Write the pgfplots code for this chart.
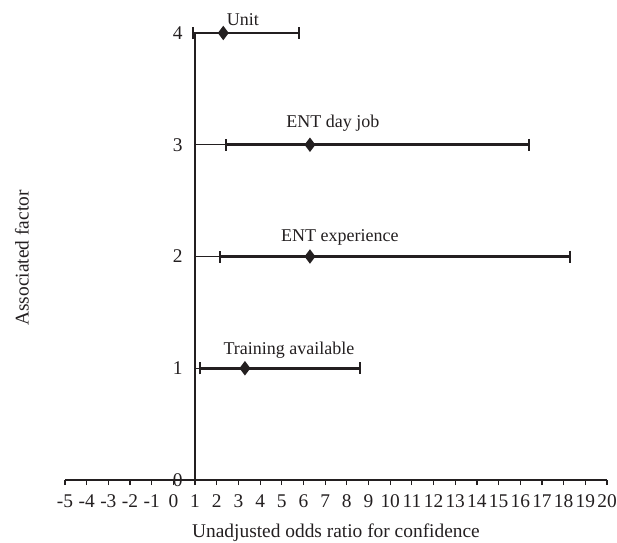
\documentclass[border=0pt]{standalone}
\usepackage{pgfplots}
\pgfplotsset{compat=1.18}
\usepackage{fontspec}
\setmainfont{Liberation Serif}
\definecolor{ink}{HTML}{231F20}
\begin{document}
\fontsize{9.7pt}{11.6pt}\selectfont
\begin{tikzpicture}
\begin{axis}[
  at={(0,0)}, anchor=south west,
  scale only axis,
  width=271pt, height=223.5pt,
  xmin=-5, xmax=20, ymin=0, ymax=4,
  axis x line=bottom, axis y line=none,
  axis line style={ink, line width=0.6pt, -},
  xtick={-5,-4,...,20},
  xticklabels={-5,-4,-3,-2,-1,0,1,2,3,4,5,6,7,8,9,10,11,12,13,14,15,16,17,18,19,20},
  xtick style={ink, line width=0.6pt},
  tick align=outside, major tick length=2.5pt,
  xticklabel style={ink, inner sep=1pt, yshift=-3.5pt},
  clip=false,
]
\addplot[ink, line width=1pt, only marks, mark=diamond*, mark size=2.8pt,
  error bars/.cd, x dir=both, x explicit,
  error bar style={line width=1.3pt, ink},
  error mark options={rotate=90, mark size=3pt, line width=1.3pt, ink}]
  table[x=x, y=y, x error minus expr=\thisrow{x}-\thisrow{lo}, x error plus expr=\thisrow{hi}-\thisrow{x}] {
x    y  lo    hi
2.30 4  0.90  5.79
6.30 3  2.43  16.40
6.30 2  2.15  18.29
3.30 1  1.23  8.61
};
\draw[ink, line width=0.6pt] (axis cs:1,0) -- (axis cs:1,4);
\draw[ink, line width=0.6pt] (axis cs:1,1) -- ++(-2.5pt,0);
\draw[ink, line width=0.6pt] (axis cs:1,2) -- ++(-2.5pt,0);
\draw[ink, line width=0.6pt] (axis cs:1,3) -- ++(-2.5pt,0);
\draw[ink, line width=0.6pt] (axis cs:1,4) -- ++(-2.5pt,0);
\node[ink, anchor=east, inner sep=0pt, xshift=-6pt] at (axis cs:1,0) {0};
\node[ink, anchor=east, inner sep=0pt, xshift=-6pt] at (axis cs:1,1) {1};
\node[ink, anchor=east, inner sep=0pt, xshift=-6pt] at (axis cs:1,2) {2};
\node[ink, anchor=east, inner sep=0pt, xshift=-6pt] at (axis cs:1,3) {3};
\node[ink, anchor=east, inner sep=0pt, xshift=-6pt] at (axis cs:1,4) {4};
\node[ink, font=\fontsize{9pt}{11pt}\selectfont] at (axis cs:3.21,4.12) {Unit};
\node[ink, font=\fontsize{9pt}{11pt}\selectfont] at (axis cs:7.36,3.19) {ENT day job};
\node[ink, font=\fontsize{9pt}{11pt}\selectfont] at (axis cs:7.68,2.17) {ENT experience};
\node[ink, font=\fontsize{9pt}{11pt}\selectfont] at (axis cs:5.33,1.16) {Training available};
\end{axis}
\node[ink] at (135.5pt,-26.5pt) {Unadjusted odds ratio for confidence};
\node[ink, rotate=90] at (-21.5pt,111pt) {Associated factor};
\pgfresetboundingbox
\path[use as bounding box] (-32.5pt,-31pt) rectangle (276pt,240pt);
\end{tikzpicture}
\end{document}
